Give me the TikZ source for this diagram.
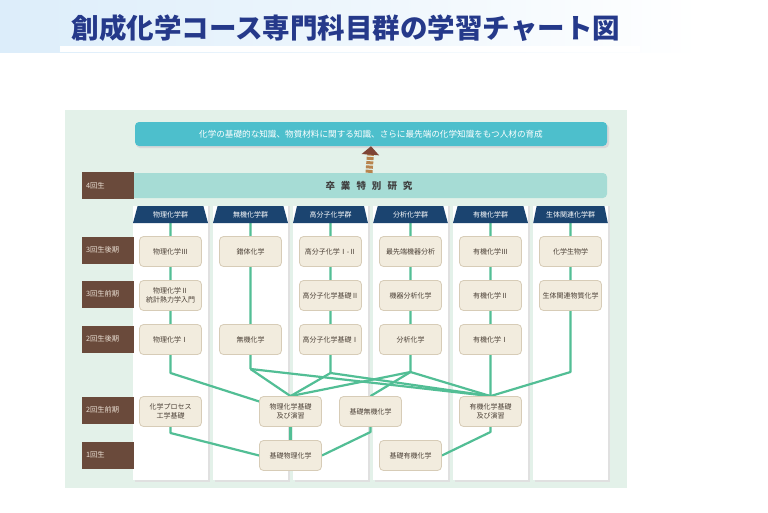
\documentclass[tikz,border=0pt]{standalone}
\usepackage{fontspec}
\setmainfont{Noto Sans CJK JP}
\usetikzlibrary{shapes.geometric,arrows.meta}

\definecolor{panelgreen}{HTML}{E3F1E9}
\definecolor{navy}{HTML}{1B4470}
\definecolor{goalcyan}{HTML}{4DBFCC}
\definecolor{thesisteal}{HTML}{A6DCD5}
\definecolor{yearbrown}{HTML}{6A4A3B}
\definecolor{yeartext}{HTML}{EADFD3}
\definecolor{coursefill}{HTML}{F2ECDE}
\definecolor{courseline}{HTML}{D7CCB7}
\definecolor{coursetext}{HTML}{4A3F35}
\definecolor{linkgreen}{HTML}{52BE95}
\definecolor{titleblue}{HTML}{25398A}
\definecolor{bannerblue}{HTML}{DCEDFA}
\definecolor{glowblue}{HTML}{CFE5F7}
\definecolor{arrowbrown}{HTML}{7E4536}
\definecolor{arrowtan}{HTML}{B8844E}

\pgfdeclarelayer{back}
\pgfdeclarelayer{links}
\pgfsetlayers{back,links,main}

\begin{document}
\begin{tikzpicture}[
    x=1pt, y=-1pt,
    font=\fontsize{7}{9}\selectfont,
    title/.style={font=\fontsize{27.5}{30}\selectfont\bfseries,text=titleblue},
    goal/.style={fill=goalcyan,rounded corners=4pt,minimum width=472pt,minimum height=24pt,
        text=white,font=\fontsize{8.6}{10}\selectfont},
    thesis/.style={fill=thesisteal,rounded corners=4pt,minimum width=476pt,minimum height=25pt,
        text=black!75,font=\fontsize{9.5}{10}\selectfont\bfseries},
    year/.style={fill=yearbrown,text=yeartext,minimum height=27pt,text width=44pt,
        inner xsep=4pt,align=left,font=\fontsize{7.3}{9}\selectfont},
    colhead/.style={trapezium,trapezium stretches=true,trapezium angle=73,
        minimum width=75pt,minimum height=17pt,fill=navy,text=white,inner sep=1pt},
    course/.style={draw=courseline,fill=coursefill,rounded corners=4pt,line width=0.8pt,
        minimum width=62pt,minimum height=30pt,align=center,text=coursetext,inner sep=1pt},
    link/.style={draw=linkgreen,line width=2.2pt,line join=round}
]
\useasboundingbox (0,0) rectangle (768,512);

% Title
\shade[left color=bannerblue,right color=white] (0,0) rectangle (700,52);
\shade[left color=white,middle color=glowblue,right color=white] (60,46) rectangle (640,51);
\node[title] (title) at (346,28) {創成化学コース専門科目群の学習チャート図};

% Panel and columns
\begin{pgfonlayer}{back}
\fill[panelgreen] (65,110) rectangle (627,488);
\fill[black!12] (134.5,206) rectangle (209.5,481.5);
\fill[white] (133,206) rectangle (208,480);
\fill[black!12] (214.5,206) rectangle (289.5,481.5);
\fill[white] (213,206) rectangle (288,480);
\fill[black!12] (294.5,206) rectangle (369.5,481.5);
\fill[white] (293,206) rectangle (368,480);
\fill[black!12] (374.5,206) rectangle (449.5,481.5);
\fill[white] (373,206) rectangle (448,480);
\fill[black!12] (454.5,206) rectangle (529.5,481.5);
\fill[white] (453,206) rectangle (528,480);
\fill[black!12] (534.5,206) rectangle (609.5,481.5);
\fill[white] (533,206) rectangle (608,480);
\end{pgfonlayer}

% Goal and graduation research
\fill[black!15,rounded corners=4pt] (136,124) rectangle (609,148);
\node[goal] (goal) at (371,134)
    {化学の基礎的な知識、物質材料に関する知識、さらに最先端の化学知識をもつ人材の育成};

\node[thesis] (thesis) at (369,185.5)
    {卒\hspace{6pt}業\hspace{6pt}特\hspace{6pt}別\hspace{6pt}研\hspace{6pt}究};

\draw[line width=7pt,draw=arrowtan,dash pattern=on 3pt off 1.3pt,
    -{Triangle[width=17pt,length=8.5pt,color=arrowbrown]}]
    (thesis.north) -- (goal.south);

% Year labels
\node[year] (yfour) at (108,185.5) {4回生};
\node[year] (ythreelate) at (108,250) {3回生後期};
\node[year] (ythreeearly) at (108,294) {3回生前期};
\node[year] (ytwolate) at (108,339) {2回生後期};
\node[year] (ytwoearly) at (108,410) {2回生前期};
\node[year] (yone) at (108,455) {1回生};

% Column headers
\node[colhead] (hphys) at (170.5,214.5) {物理化学群};
\node[colhead] (hinorg) at (250.5,214.5) {無機化学群};
\node[colhead] (hpoly) at (330.5,214.5) {高分子化学群};
\node[colhead] (hanal) at (410.5,214.5) {分析化学群};
\node[colhead] (horg) at (490.5,214.5) {有機化学群};
\node[colhead] (hbio) at (570.5,214.5) {生体関連化学群};

% Physical chemistry
\node[course] (physthree) at (170.5,251.5) {物理化学Ⅲ};
\node[course] (phystwo) at (170.5,295.5) {物理化学Ⅱ\\統計熱力学入門};
\node[course] (physone) at (170.5,339.5) {物理化学Ⅰ};
\node[course] (proceng) at (170.5,411.5) {化学プロセス\\工学基礎};

% Inorganic chemistry
\node[course] (complex) at (250.5,251.5) {錯体化学};
\node[course] (inorg) at (250.5,339.5) {無機化学};

% Polymer chemistry
\node[course] (polyadv) at (330.5,251.5) {高分子化学Ⅰ-Ⅱ};
\node[course] (polytwo) at (330.5,295.5) {高分子化学基礎Ⅱ};
\node[course] (polyone) at (330.5,339.5) {高分子化学基礎Ⅰ};

% Analytical chemistry
\node[course] (analadv) at (410.5,251.5) {最先端機器分析};
\node[course] (analinst) at (410.5,295.5) {機器分析化学};
\node[course] (anal) at (410.5,339.5) {分析化学};

% Organic chemistry
\node[course] (orgthree) at (490.5,251.5) {有機化学Ⅲ};
\node[course] (orgtwo) at (490.5,295.5) {有機化学Ⅱ};
\node[course] (orgone) at (490.5,339.5) {有機化学Ⅰ};
\node[course] (orgbase) at (490.5,411.5) {有機化学基礎\\及び演習};

% Bio-related chemistry
\node[course] (chembio) at (570.5,251.5) {化学生物学};
\node[course] (biomat) at (570.5,295.5) {生体関連物質化学};

% Basics
\node[course] (physbase) at (290.5,411.5) {物理化学基礎\\及び演習};
\node[course] (inorgbase) at (370.5,411.5) {基礎無機化学};
\node[course] (physintro) at (290.5,455.5) {基礎物理化学};
\node[course] (orgintro) at (410.5,455.5) {基礎有機化学};

\coordinate (physbend) at (170.5,373);
\coordinate (inorgbend) at (250.5,369);
\coordinate (polybend) at (330.5,373);
\coordinate (analbend) at (410.5,372);
\coordinate (biobend) at (570.5,372);
\coordinate (procbend) at (170.5,433);
\coordinate (inorgbasebend) at (370.5,432);
\coordinate (orgbasebend) at (490.5,432);

% Connectors
\begin{pgfonlayer}{links}
\draw[link] (hphys.south) -- (physthree) -- (phystwo) -- (physone)
    -- (physbend) -- (physbase.center);
\draw[link] (hinorg.south) -- (complex) -- (inorg) -- (inorgbend);
\draw[link] (inorgbend) -- (physbase.north);
\draw[link] (inorgbend) -- (orgbase.north);
\draw[link] (hpoly.south) -- (polyadv) -- (polytwo) -- (polyone) -- (polybend);
\draw[link] (polybend) -- (physbase.north);
\draw[link] (polybend) -- (orgbase.north);
\draw[link] (hanal.south) -- (analadv) -- (analinst) -- (anal) -- (analbend);
\draw[link] (analbend) -- (physbase.north);
\draw[link] (analbend) -- (inorgbase.north);
\draw[link] (analbend) -- (orgbase.north);
\draw[link] (horg.south) -- (orgthree) -- (orgtwo) -- (orgone) -- (orgbase);
\draw[link] (hbio.south) -- (chembio) -- (biomat) -- (biobend) -- (orgbase.north);
\draw[link] (proceng) -- (procbend) -- (physintro.west);
\draw[link] (physbase) -- (physintro);
\draw[link] (inorgbase) -- (inorgbasebend) -- (physintro.east);
\draw[link] (orgbase) -- (orgbasebend) -- (orgintro.east);
\end{pgfonlayer}

\end{tikzpicture}
\end{document}
